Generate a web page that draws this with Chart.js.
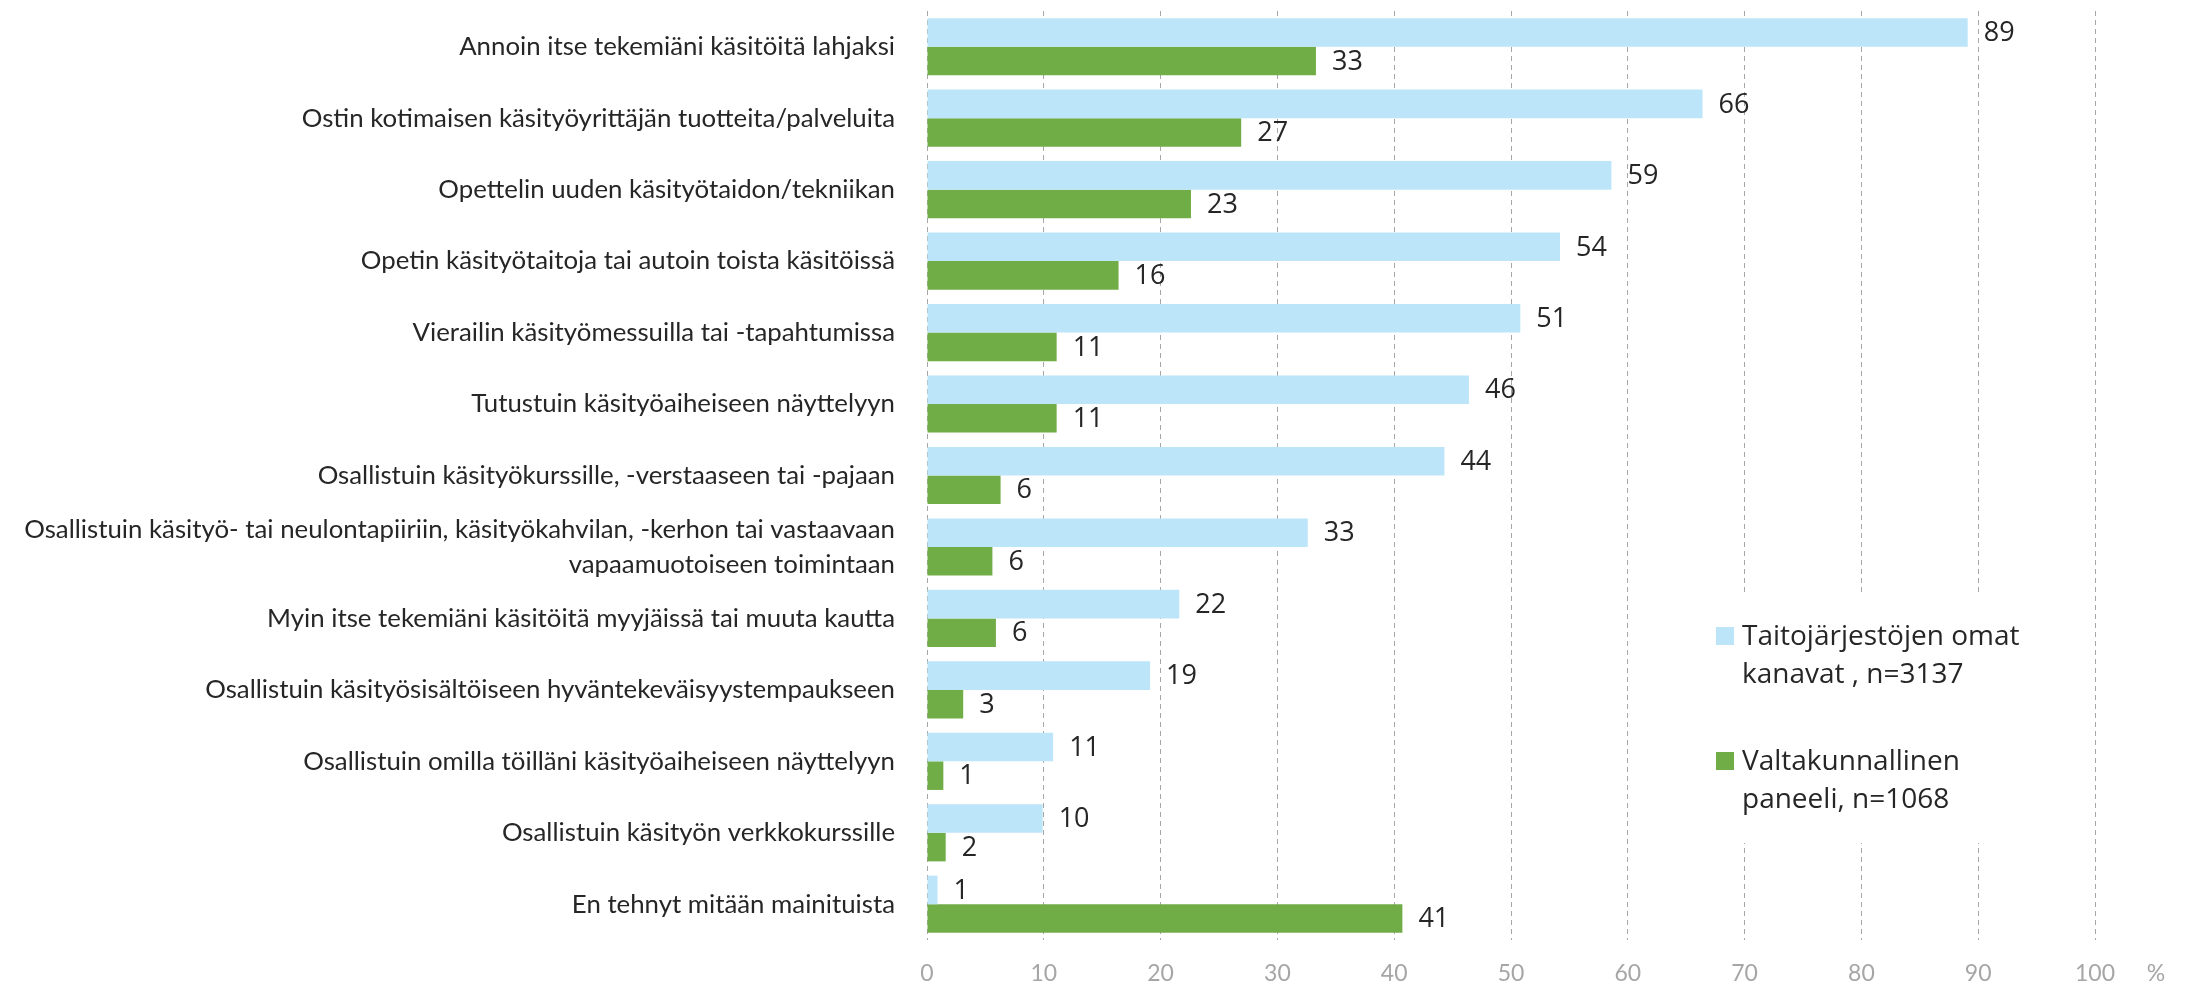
<!DOCTYPE html>
<html>
<head>
<meta charset="utf-8">
<script src="https://cdn.jsdelivr.net/npm/chart.js@4.4.1/dist/chart.umd.min.js"></script>
<style>
  body { margin: 0; background: #fff; }
  #wrap { width: 2188px; height: 985px; }
</style>
</head>
<body>
<div id="wrap"><canvas id="chart" width="2188" height="985"></canvas></div>
<script>
// categories, top to bottom
const categories = [
  'Annoin itse tekemiäni käsitöitä lahjaksi',
  'Ostin kotimaisen käsityöyrittäjän tuotteita/palveluita',
  'Opettelin uuden käsityötaidon/tekniikan',
  'Opetin käsityötaitoja tai autoin toista käsitöissä',
  'Vierailin käsityömessuilla tai -tapahtumissa',
  'Tutustuin käsityöaiheiseen näyttelyyn',
  'Osallistuin käsityökurssille, -verstaaseen tai -pajaan',
  ['Osallistuin käsityö- tai neulontapiiriin, käsityökahvilan, -kerhon tai vastaavaan', 'vapaamuotoiseen toimintaan'],
  'Myin itse tekemiäni käsitöitä myyjäissä tai muuta kautta',
  'Osallistuin käsityösisältöiseen hyväntekeväisyystempaukseen',
  'Osallistuin omilla töilläni käsityöaiheiseen näyttelyyn',
  'Osallistuin käsityön verkkokurssille',
  'En tehnyt mitään mainituista'
];

// % values (labels show the rounded value)
const taitoValues = [89.1, 66.4, 58.6, 54.2, 50.8, 46.4, 44.3, 32.6, 21.6, 19.1, 10.8, 9.9, 0.9];
const paneeliValues = [33.3, 26.9, 22.6, 16.4, 11.1, 11.1, 6.3, 5.6, 5.9, 3.1, 1.4, 1.6, 40.7];

const seriesNames = [
  ['Taitojärjestöjen omat', 'kanavat , n=3137'],
  ['Valtakunnallinen', 'paneeli, n=1068']
];
const seriesColors = ['#bde5f9', '#70ad47'];

const xTicks = [0, 10, 20, 30, 40, 50, 60, 70, 80, 90, 100];

const valueLabels = {
  id: 'valueLabels',
  afterDatasetsDraw(chart) {
    const ctx = chart.ctx;
    ctx.save();
    ctx.font = '27px "Open Sans"';
    ctx.fillStyle = '#262626';
    ctx.textAlign = 'left';
    ctx.textBaseline = 'middle';
    chart.data.datasets.forEach(function (ds, i) {
      chart.getDatasetMeta(i).data.forEach(function (bar, j) {
        ctx.fillText(String(Math.round(ds.data[j])), bar.x + 16, bar.y + 1);
      });
    });
    ctx.restore();
  }
};

const sideLegend = {
  id: 'sideLegend',
  afterDraw(chart) {
    const ctx = chart.ctx;
    ctx.save();
    // legend sits on top of the 70-90 grid lines
    ctx.fillStyle = '#fff';
    ctx.fillRect(1700, 592, 385, 251);
    ctx.font = '28px "Open Sans"';
    ctx.textAlign = 'left';
    ctx.textBaseline = 'alphabetic';
    var top = 645;
    chart.data.datasets.forEach(function (ds, i) {
      ctx.fillStyle = ds.backgroundColor;
      ctx.fillRect(1716, top - 18, 18, 18);
      ctx.fillStyle = '#262626';
      seriesNames[i].forEach(function (line, k) {
        ctx.fillText(line, 1742, top + k * 38);
      });
      top += 125;
    });
    // unit after the last tick
    const x = chart.scales.x;
    ctx.font = '23px Lato';
    ctx.fillStyle = '#a6a6a6';
    ctx.textAlign = 'center';
    ctx.textBaseline = 'middle';
    ctx.fillText('%', x.getPixelForValue(100) + 61, 974);
    ctx.restore();
  }
};

new Chart(document.getElementById('chart'), {
  type: 'bar',
  data: {
    labels: categories,
    datasets: [
      { label: seriesNames[0].join(' '), data: taitoValues, backgroundColor: seriesColors[0] },
      { label: seriesNames[1].join(' '), data: paneeliValues, backgroundColor: seriesColors[1] }
    ]
  },
  options: {
    indexAxis: 'y',
    responsive: false,
    animation: false,
    layout: { padding: { top: 11, right: 93, left: 0, bottom: 0 } },
    datasets: { bar: { categoryPercentage: 0.8, barPercentage: 1.0 } },
    plugins: {
      legend: { display: false },
      tooltip: { enabled: false }
    },
    scales: {
      x: {
        min: 0,
        max: 100,
        afterBuildTicks(scale) { scale.ticks = xTicks.map(function (v) { return { value: v }; }); },
        afterFit(scale) {
          scale.height = 45;
          scale.paddingLeft = 0;
          scale.paddingRight = 0;
        },
        grid: { color: '#a6a6a6', lineWidth: 1, drawTicks: false },
        border: { display: false, dash: [5, 4] },
        ticks: { color: '#a6a6a6', font: { family: 'Lato', size: 23 }, padding: 20 }
      },
      y: {
        afterFit(scale) {
          scale.width = 927;
          scale.paddingTop = 0;
          scale.paddingBottom = 0;
        },
        grid: { display: false },
        border: { display: false },
        ticks: {
          autoSkip: false,
          color: '#262626',
          font: { family: 'Lato', size: 25.8, lineHeight: 1.34 },
          padding: 24
        }
      }
    }
  },
  plugins: [valueLabels, sideLegend]
});
</script>
</body>
</html>
